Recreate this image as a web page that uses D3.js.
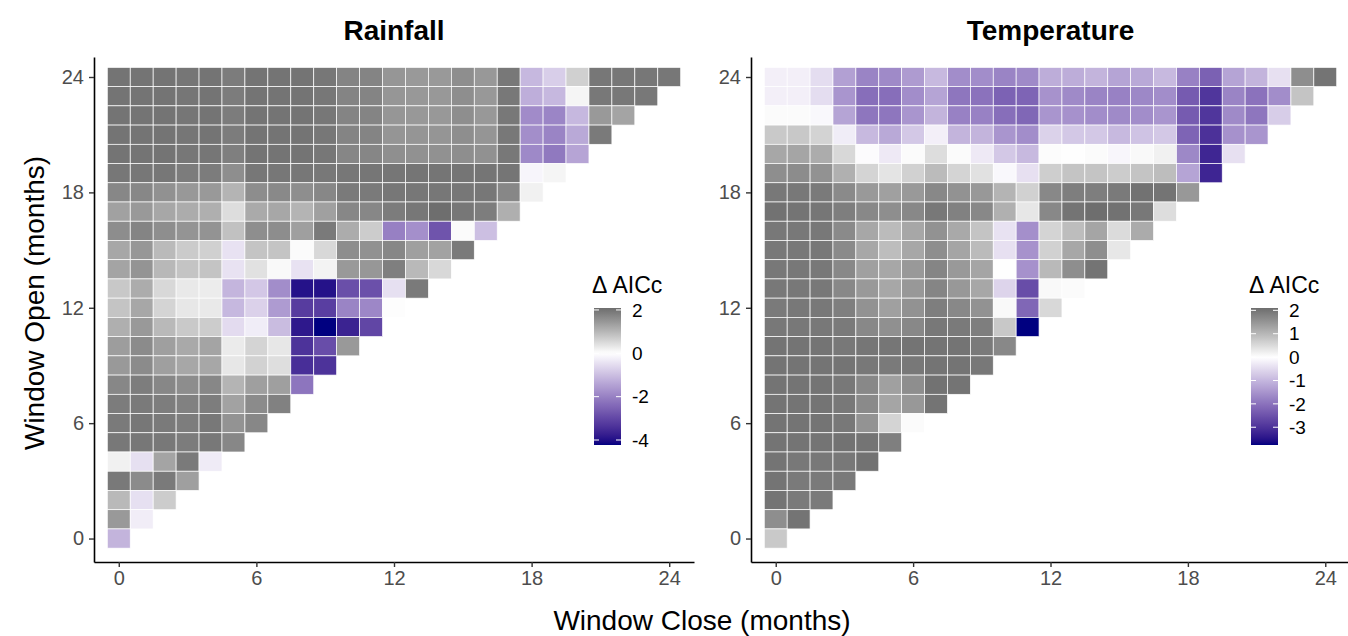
<!DOCTYPE html>
<html>
<head>
<meta charset="utf-8">
<script src="https://cdn.jsdelivr.net/npm/d3@7"></script>
<style>
  body { margin: 0; background: #fff; }
  text { font-family: "Liberation Sans", Arial, sans-serif; }
</style>
</head>
<body>
<svg id="chart" width="1348" height="636"></svg>
<script>
// delta AICc per window, one row per "window open" month (24 at the top down to 0),
// each row lists "window close" months 0..open
const rainfall = [
  [2.0,2.0,2.0,1.97,2.0,1.88,2.0,2.0,2.0,1.95,1.75,1.75,1.48,1.44,1.44,1.6,1.45,1.93,-1.1,-0.75,0.64,1.95,1.95,1.95,1.95],
  [2.0,2.0,2.0,1.97,2.0,1.88,2.0,2.0,2.0,1.95,1.75,1.75,1.48,1.45,1.45,1.6,1.45,1.93,-1.26,-1.1,0.13,1.93,1.93,1.93],
  [2.0,2.0,2.0,1.97,2.0,1.88,2.0,2.0,2.0,1.95,1.75,1.75,1.48,1.45,1.45,1.6,1.45,1.93,-1.83,-1.93,-1.1,1.44,1.27],
  [2.0,2.0,2.0,1.97,2.0,1.88,2.0,2.0,2.0,1.95,1.75,1.75,1.5,1.5,1.5,1.6,1.5,1.93,-1.78,-1.95,-1.35,1.91],
  [2.0,2.0,2.0,1.95,1.97,1.82,2.0,2.0,2.0,1.95,1.72,1.72,1.58,1.55,1.55,1.6,1.55,1.93,-1.87,-2.14,-1.42],
  [1.95,1.95,1.95,1.87,1.87,1.6,1.95,1.95,1.95,1.93,1.95,1.97,1.97,1.98,1.98,1.98,1.98,1.98,-0.15,0.13],
  [1.7,1.7,1.55,1.45,1.44,1.04,1.61,1.67,1.6,1.7,1.91,1.91,1.95,1.95,1.95,1.95,1.95,1.7,0.19],
  [1.32,1.44,1.23,1.16,1.11,0.47,1.18,1.23,1.04,1.33,1.7,1.7,1.88,1.95,2.09,1.95,1.85,1.11],
  [1.61,1.75,1.6,1.51,1.53,0.85,1.6,1.61,1.34,1.91,1.16,0.7,-2.02,-1.76,-2.78,0.06,-0.99],
  [1.23,1.47,0.95,0.72,0.64,-0.45,0.82,0.82,0.05,0.53,1.62,1.55,1.7,1.34,1.3,1.91],
  [1.27,1.51,0.98,0.82,0.82,-0.45,0.41,0.08,-0.45,0.16,1.44,1.47,1.83,0.97,0.53],
  [0.76,1.16,0.53,0.3,0.26,-1.15,-0.86,-1.8,-3.95,-3.95,-2.87,-2.85,-0.48,1.91],
  [0.82,1.23,0.59,0.33,0.3,-1.1,-0.7,-1.57,-3.2,-3.16,-1.95,-1.9,0.03],
  [1.11,1.44,0.97,0.74,0.7,-0.55,-0.28,-1.04,-3.85,-4.23,-3.66,-3.02],
  [1.37,1.64,1.34,1.2,1.27,0.27,0.59,0.33,-3.37,-2.9,1.44],
  [1.44,1.64,1.34,1.23,1.23,0.33,0.62,0.45,-3.45,-3.37],
  [1.7,1.85,1.7,1.61,1.7,1.04,1.34,1.34,-2.2],
  [1.87,1.91,1.85,1.8,1.85,1.3,1.64,1.8],
  [1.91,1.95,1.91,1.85,1.93,1.52,1.7],
  [1.93,1.95,1.93,1.87,1.93,1.7],
  [0.19,-0.48,1.27,1.91,-0.31],
  [1.92,1.64,1.91,1.34],
  [0.97,-0.48,0.7],
  [1.44,-0.27],
  [-1.17]
];

const temperature = [
  [-0.21,-0.21,-0.46,-1.33,-1.73,-1.65,-1.4,-0.97,-1.6,-1.6,-1.73,-1.65,-1.14,-1.14,-1.04,-1.27,-1.2,-0.97,-1.78,-2.26,-1.27,-1.04,-0.42,1.6,2.0],
  [-0.21,-0.21,-0.46,-1.48,-2.07,-2.07,-1.6,-1.27,-1.94,-2.0,-2.25,-2.22,-1.52,-1.65,-1.73,-1.78,-1.68,-1.6,-2.35,-2.95,-1.73,-2.0,-1.6,0.82],
  [0.05,0.05,-0.1,-1.27,-1.94,-1.94,-1.48,-1.04,-1.78,-1.78,-2.07,-2.18,-1.48,-1.54,-1.6,-1.65,-1.6,-1.48,-2.35,-2.95,-1.65,-1.94,-0.68],
  [0.74,0.76,0.6,-0.25,-0.97,-1.2,-0.76,-0.21,-1.04,-1.04,-1.48,-1.6,-0.62,-0.76,-0.76,-0.97,-0.82,-0.76,-2.22,-3.02,-1.54,-1.48],
  [1.23,1.27,1.16,0.53,-0.05,-0.3,0.06,0.47,0.06,-0.3,-0.76,-0.97,0.04,0.02,0.06,-0.12,0.08,0.19,-1.68,-3.2,-0.42],
  [1.61,1.64,1.55,1.11,0.59,0.37,0.64,0.95,0.59,0.41,-0.1,-0.42,0.68,0.82,0.82,0.7,0.82,0.92,-1.27,-3.22],
  [1.95,1.95,1.91,1.67,1.44,1.34,1.44,1.7,1.55,1.45,1.04,0.64,1.7,1.85,1.85,1.91,2.03,2.0,1.45],
  [2.03,2.0,1.98,1.85,1.7,1.61,1.7,1.95,1.8,1.7,1.11,0.33,1.7,2.0,2.1,2.03,1.95,0.47],
  [1.95,1.95,1.95,1.67,1.23,0.95,1.23,1.55,1.2,0.82,-0.4,-1.57,0.59,0.92,1.27,0.5,1.18],
  [1.95,1.95,1.95,1.67,1.23,0.92,1.23,1.61,1.27,0.95,-0.42,-1.52,0.64,1.23,1.61,0.33],
  [1.95,1.95,1.95,1.7,1.34,1.23,1.44,1.75,1.44,1.27,0.02,-1.54,0.98,1.61,2.0],
  [1.95,1.95,1.95,1.7,1.44,1.23,1.45,1.75,1.45,1.23,-0.59,-2.58,0.08,0.06],
  [1.91,1.95,1.95,1.83,1.55,1.34,1.55,1.85,1.7,1.55,0.08,-2.18,0.53],
  [1.95,1.95,1.95,1.91,1.7,1.58,1.7,1.95,1.91,1.85,0.76,-3.76],
  [2.0,2.0,2.0,1.95,1.98,1.98,2.0,2.0,2.0,1.91,1.7],
  [2.0,2.0,2.0,2.0,1.95,1.91,1.95,2.0,2.0,1.95],
  [2.0,2.0,2.0,1.95,1.7,1.34,1.61,2.03,2.0],
  [2.0,2.0,2.0,1.95,1.67,1.27,1.45,2.0],
  [2.0,2.0,2.0,1.95,1.53,0.59,0.06],
  [2.0,2.0,2.0,2.03,2.0,1.83],
  [2.0,1.95,1.95,1.95,2.03],
  [2.0,1.91,1.91,1.91],
  [2.0,1.91,1.91],
  [1.61,2.0],
  [0.74]
];

const axisTicks = [0, 6, 12, 18, 24];
const rainfallLegendTicks = [2, 0, -2, -4];
const temperatureLegendTicks = [2, 1, 0, -1, -2, -3];

const svg = d3.select("#chart");

// turn the row lists into tiles {close, open, value}
function toTiles(rows) {
  let tiles = [];
  rows.forEach((row, i) => {
    let open = rows.length - 1 - i;
    row.forEach((v, close) => tiles.push({ close: close, open: open, value: v }));
  });
  return tiles;
}

const y = d3.scaleLinear().domain([-1.22, 25.04]).range([562, 57]);

const panels = [
  { title: "Rainfall", rows: rainfall, left: 94, right: 694, legendX: 594, legendTicks: rainfallLegendTicks },
  { title: "Temperature", rows: temperature, left: 751, right: 1350, legendX: 1251, legendTicks: temperatureLegendTicks }
];

panels.forEach((p, pi) => {
  let tiles = toTiles(p.rows);
  let extent = d3.extent(tiles, d => d.value);

  let x = d3.scaleLinear().domain([-1.08, 25.08]).range([p.left, p.right]);

  let color = d3.scaleLinear()
    .domain([extent[0], 0, extent[1]])
    .range(["#000080", "#ffffff", "#6e6e6e"])
    .interpolate(d3.interpolateLab);

  let g = svg.append("g");

  // tiles
  g.selectAll("rect.tile")
    .data(tiles)
    .enter().append("rect")
    .attr("class", "tile")
    .attr("x", d => x(d.close - 0.5))
    .attr("y", d => y(d.open + 0.5))
    .attr("width", d => x(d.close + 0.5) - x(d.close - 0.5))
    .attr("height", d => y(d.open - 0.5) - y(d.open + 0.5))
    .attr("fill", d => color(d.value))
    .attr("stroke", "#ffffff")
    .attr("stroke-width", 0.7);

  // axes
  let xAxis = g.append("g")
    .attr("transform", "translate(0," + y.range()[0] + ")")
    .call(d3.axisBottom(x).tickValues(axisTicks).tickSize(5).tickSizeOuter(0).tickPadding(4));
  let yAxis = g.append("g")
    .attr("transform", "translate(" + p.left + ",0)")
    .call(d3.axisLeft(y).tickValues(axisTicks).tickSize(5).tickSizeOuter(0).tickPadding(5));

  [xAxis, yAxis].forEach(a => {
    a.select(".domain").attr("stroke", "#000").attr("stroke-width", 1.6);
    a.selectAll(".tick line").attr("stroke", "#333").attr("stroke-width", 1.4);
    a.selectAll(".tick text").attr("fill", "#4d4d4d").style("font-size", "20px");
  });

  // panel title
  g.append("text")
    .attr("x", (p.left + p.right) / 2)
    .attr("y", 40)
    .attr("text-anchor", "middle")
    .style("font-size", "28px")
    .style("font-weight", "bold")
    .text(p.title);

  // colour bar legend
  let barW = 27, barTop = 308, barBottom = 445;
  let ly = d3.scaleLinear().domain(extent).range([barBottom, barTop]);
  let gradId = "grad" + pi;
  let grad = svg.append("defs").append("linearGradient")
    .attr("id", gradId)
    .attr("x1", "0%").attr("y1", "100%")
    .attr("x2", "0%").attr("y2", "0%");
  grad.selectAll("stop")
    .data(d3.range(0, 1.0001, 0.02))
    .enter().append("stop")
    .attr("offset", d => (d * 100) + "%")
    .attr("stop-color", d => color(extent[0] + d * (extent[1] - extent[0])));

  g.append("text")
    .attr("x", p.legendX - 2)
    .attr("y", 293)
    .style("font-size", "23px")
    .text("\u0394 AICc");

  g.append("rect")
    .attr("x", p.legendX)
    .attr("y", barTop)
    .attr("width", barW)
    .attr("height", barBottom - barTop)
    .attr("fill", "url(#" + gradId + ")");

  p.legendTicks.forEach(t => {
    let ty = ly(t);
    g.append("line")
      .attr("x1", p.legendX).attr("x2", p.legendX + 5)
      .attr("y1", ty).attr("y2", ty)
      .attr("stroke", "#fff").attr("stroke-width", 1);
    g.append("line")
      .attr("x1", p.legendX + barW - 5).attr("x2", p.legendX + barW)
      .attr("y1", ty).attr("y2", ty)
      .attr("stroke", "#fff").attr("stroke-width", 1);
    g.append("text")
      .attr("x", p.legendX + barW + 11)
      .attr("y", ty)
      .attr("dy", "0.35em")
      .style("font-size", "19px")
      .text(t);
  });
});

// shared axis titles
svg.append("text")
  .attr("x", 702)
  .attr("y", 630)
  .attr("text-anchor", "middle")
  .style("font-size", "28px")
  .text("Window Close (months)");

svg.append("text")
  .attr("transform", "translate(44,303) rotate(-90)")
  .attr("text-anchor", "middle")
  .style("font-size", "28px")
  .text("Window Open (months)");
</script>
</body>
</html>
